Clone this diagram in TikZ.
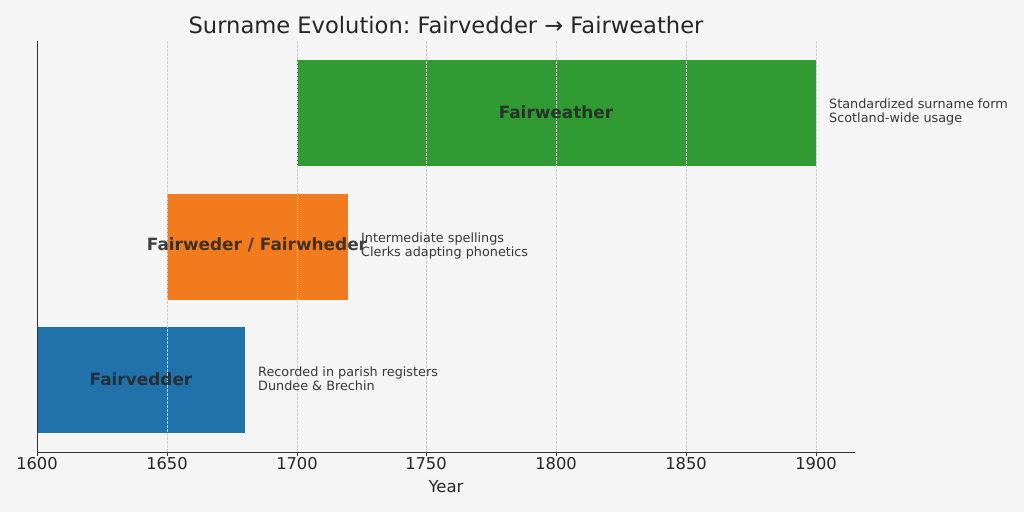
\documentclass[tikz,border=0pt]{standalone}
\usepackage{fontspec}
\setmainfont{DejaVu Sans}
\frenchspacing
\begin{document}
\begin{tikzpicture}[x=1pt,y=-1pt,
  bar/.style={draw=none},
  barlabel/.style={font=\fontsize{16.9}{19}\selectfont\bfseries, text=black!85, text opacity=0.88},
  note/.style={font=\fontsize{12.8}{14}\selectfont, text=black!78, anchor=west, align=left, inner sep=0pt},
  ticklab/.style={font=\fontsize{16.3}{18}\selectfont, text=black!85, anchor=north, inner sep=0pt},
  gridl/.style={draw=black!20, dash pattern=on 2.5pt off 1.5pt, line width=0.5pt},
  spine/.style={draw=black!80, line width=1pt}]
\fill[black!4] (0,0) rectangle (1024,512);
\useasboundingbox (0,0) rectangle (1024,512);
\definecolor{bblue}{HTML}{2171AA}
\definecolor{borange}{HTML}{F27C1D}
\definecolor{bgreen}{HTML}{2F9B32}
% bars
\fill[bblue] (37,327) rectangle (245,433);
\fill[borange] (167,194) rectangle (348,300);
\fill[bgreen] (297,60) rectangle (816,166);
% grid
\foreach \x in {167,297,426,556,686,816} {
  \draw[gridl] (\x,41) -- (\x,452);
}
% spines
\coordinate (o) at (37,452);
\coordinate (top) at (37,41);
\coordinate (right) at (855,452);
\draw[spine] (top) -- (o) -- (right);
% ticks and labels
\foreach \x/\l in {37/1600,167/1650,297/1700,426/1750,556/1800,686/1850,816/1900} {
  \draw[black!80, line width=0.8pt] (\x,452) -- (\x,456);
  \node[ticklab] (t\l) at (\x,457) {\l};
}
\node[font=\fontsize{16.5}{18}\selectfont, text=black!85] (xl) at (446,487) {Year};
\node[font=\fontsize{22.6}{25}\selectfont, text=black!85] (title) at (446,25) {Surname Evolution: Fairvedder → Fairweather};
% bar labels
\node[barlabel] (l1) at (141,379) {Fairvedder};
\node[barlabel] (l2) at (257,245) {Fairweder / Fairwheder};
\node[barlabel] (l3) at (556,112) {Fairweather};
% notes
\node[note] (n1) at (258,379) {Recorded in parish registers\\Dundee \& Brechin};
\node[note] (n2) at (361,246) {Intermediate spellings\\Clerks adapting phonetics};
\node[note] (n3) at (829,112) {Standardized surname form\\Scotland-wide usage};
\end{tikzpicture}
\end{document}
